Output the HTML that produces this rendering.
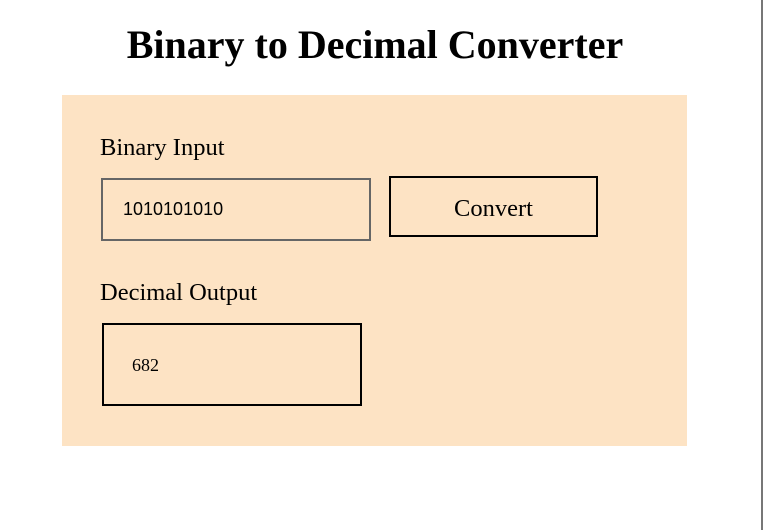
<!DOCTYPE html>
<html><head><style>
body{margin:0;width:763px;height:530px;background:#fff;position:relative;overflow:hidden;font-family:"Liberation Serif",serif;}
.vl{position:absolute;left:761px;top:0;width:2px;height:530px;background:#777;}
h1{position:absolute;left:0;width:750px;top:20px;margin:0;text-align:center;font-size:40px;font-weight:bold;line-height:50px;}
.panel{position:absolute;left:62px;top:95px;width:625px;height:351px;background:#fde3c4;}
.lbl{position:absolute;font-size:24.5px;line-height:28px;}
.box{position:absolute;box-sizing:border-box;}
</style></head><body>
<div class="vl"></div>
<h1>Binary to Decimal Converter</h1>
<div class="panel"></div>
<div class="lbl" style="left:100px;top:134px">Binary Input</div>
<div class="box" style="left:101px;top:178px;width:270px;height:63px;border:2px solid #666;font-family:'Liberation Sans',sans-serif;font-size:18px;line-height:59px;padding-left:20px;">1010101010</div>
<div class="box" style="left:389px;top:176px;width:209px;height:61px;border:2px solid #000;font-size:24.5px;line-height:61px;text-align:center;">Convert</div>
<div class="lbl" style="left:100px;top:279px">Decimal Output</div>
<div class="box" style="left:102px;top:323px;width:260px;height:83px;border:2px solid #000;font-size:18px;line-height:81px;padding-left:28px;">682</div>
</body></html>
